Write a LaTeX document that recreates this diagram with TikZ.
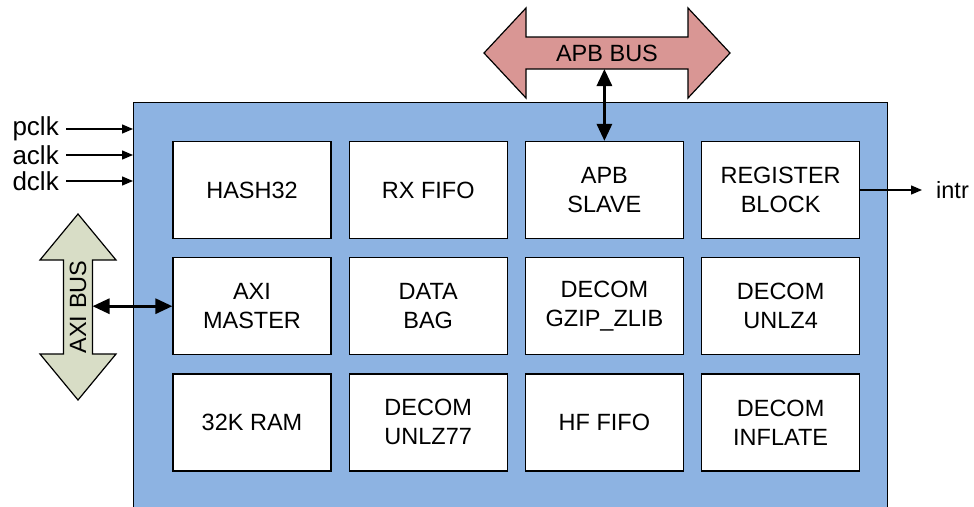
\documentclass[tikz,border=0pt]{standalone}
\usepackage{fontspec}
\setmainfont{Liberation Sans}
\usetikzlibrary{arrows.meta, positioning, backgrounds}
\definecolor{coreblue}{HTML}{8DB3E2}
\definecolor{apbpink}{HTML}{D99694}
\definecolor{axisage}{HTML}{D8DDC6}

\begin{document}
\begin{tikzpicture}[x=1pt, y=-1pt,
		font=\fontsize{23.5}{29}\selectfont,
		blk/.style={draw=black, fill=white, line width=1.2pt, minimum width=158pt,
			minimum height=97pt, inner sep=0pt, align=center},
		shaft/.style={inner sep=0pt, outer sep=0pt},
		busline/.style={line width=3pt, {Triangle[length=17pt,width=15pt]}-{Triangle[length=17pt,width=15pt]}},
		sig/.style={line width=1.4pt, -{Triangle[length=11pt,width=9pt]}},
		lbl/.style={anchor=west, font=\fontsize{26}{30}\selectfont}]
	\useasboundingbox (0,0) rectangle (974,506);
	\node[draw=black, fill=coreblue, line width=1.4pt, minimum width=754pt,
		minimum height=440pt, anchor=north west] (core) at (133,102) {};

	\node[blk] (hash) at (252,190) {HASH32};
	\node[blk, right=17pt of hash] (rxfifo) {RX FIFO};
	\node[blk, right=17pt of rxfifo] (apbslv) {APB\\SLAVE};
	\node[blk, right=17pt of apbslv] (regblk) {REGISTER\\BLOCK};
	\node[blk, below=18pt of hash] (aximst) {AXI\\MASTER};
	\node[blk, right=17pt of aximst] (databag) {DATA\\BAG};
	\node[blk, right=17pt of databag] (gzip) {DECOM\\GZIP\_ZLIB};
	\node[blk, right=17pt of gzip] (unlzfour) {DECOM\\UNLZ4};
	\node[blk, below=18pt of aximst] (ram) {32K RAM};
	\node[blk, right=17pt of ram] (unlzss) {DECOM\\UNLZ77};
	\node[blk, right=17pt of unlzss] (hffifo) {HF FIFO};
	\node[blk, right=17pt of hffifo] (inflate) {DECOM\\INFLATE};

	\node[shaft, minimum width=162pt, minimum height=32pt] (apb) at (607,53) {APB BUS};
	\node[shaft, minimum width=29pt, minimum height=94pt,
		label={[rotate=90]center:AXI BUS}] (axi) at (78,307) {};
	\begin{scope}[on background layer]
		\draw[fill=apbpink, line width=1.2pt] (apb.north west) -- ([yshift=29pt]apb.north west)
			-- ([xshift=-42pt]apb.west) -- ([yshift=-29pt]apb.south west) -- (apb.south west)
			-- (apb.south east) -- ([yshift=-29pt]apb.south east) -- ([xshift=42pt]apb.east)
			-- ([yshift=29pt]apb.north east) -- (apb.north east) -- cycle;
		\draw[fill=axisage, line width=1.2pt] (axi.north west) -- ([xshift=-23.5pt]axi.north west)
			-- ([yshift=46pt]axi.north) -- ([xshift=23.5pt]axi.north east) -- (axi.north east)
			-- (axi.south east) -- ([xshift=23.5pt]axi.south east) -- ([yshift=-46pt]axi.south)
			-- ([xshift=-23.5pt]axi.south west) -- (axi.south west) -- cycle;
	\end{scope}
	\draw[busline] (apbslv.north |- apb.south) -- (apbslv.north);
	\draw[busline] (aximst.west -| axi.east) -- (aximst.west);

	\node[lbl] (pclk) at (9,129) {pclk};
	\node[lbl] (aclk) at (9,155) {aclk};
	\node[lbl] (dclk) at (9,181) {dclk};
	\draw[sig] ([xshift=4pt]pclk.east) -- (pclk.east -| core.west);
	\draw[sig] ([xshift=4pt]aclk.east) -- (aclk.east -| core.west);
	\draw[sig] ([xshift=4pt]dclk.east) -- (dclk.east -| core.west);

	\node[lbl, inner xsep=0pt, font=\fontsize{23.5}{29}\selectfont] (intr) at (936,190) {intr};
	\draw[sig] (regblk.east) -- ([xshift=-14pt]intr.west);
\end{tikzpicture}
\end{document}
